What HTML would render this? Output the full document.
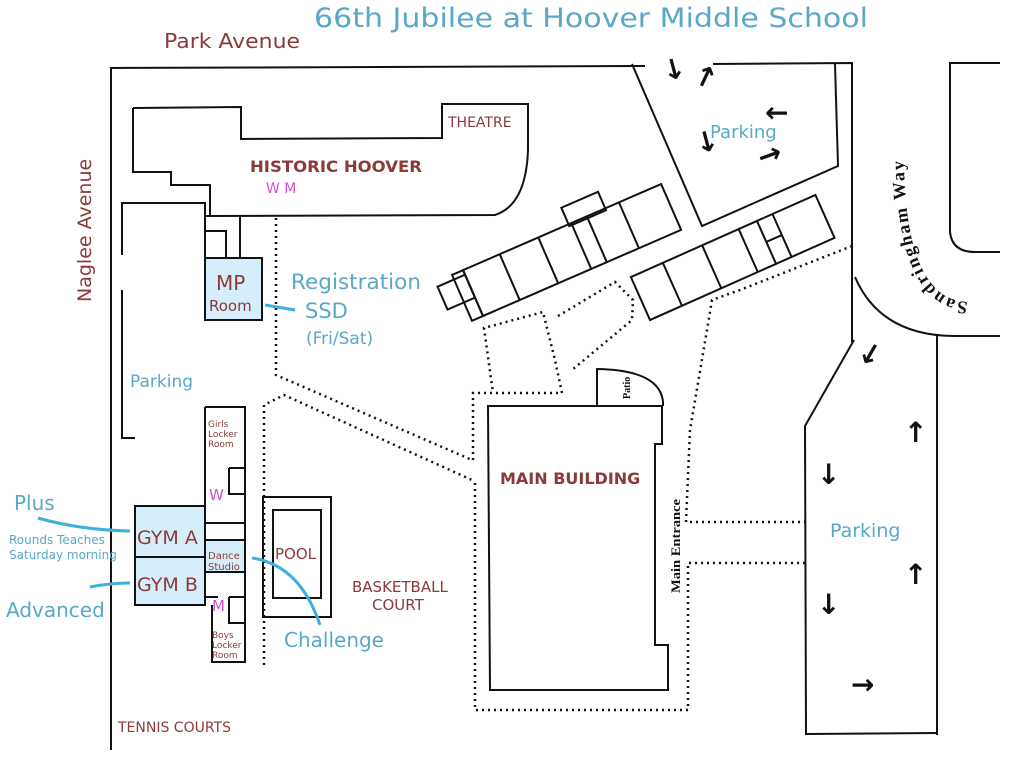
<!DOCTYPE html>
<html><head><meta charset="utf-8"><style>
html,body{margin:0;padding:0;background:#fff}
svg{display:block}
text{font-family:"DejaVu Sans","Liberation Sans",sans-serif}
.r{fill:#8b3a3a}.b{fill:#5aa8c8}.m{fill:#d24fd2}
.ar{font-family:"DejaVu Sans",sans-serif;font-weight:bold;fill:#111;font-size:28px}
</style></head><body>
<svg width="1023" height="768" viewBox="0 0 1023 768" xmlns="http://www.w3.org/2000/svg">
<defs><path id="sw" d="M968 302 Q903 300 904 150"/></defs>
<g fill="none" stroke="#111" stroke-width="2">
<path d="M110 68 L645 66 M111 68 L111 750 M713 64 L852 63 L852 342"/>
<path d="M632 64 L702 226 L838 166 L835 64"/>
<path d="M1000 63 L950 63 L950 232 Q952 252 975 252 L1000 252"/>
<path d="M855 277 Q880 335 953 336 L1000 336 M937 336 L937 735"/>
<path d="M854 340 L805 426 L806 734 L937 733"/>
<path d="M133 108 L241 107 L241 139 L442 138 L442 104 L528 104 L528 150 Q526 205 495 215 L205 216 L205 203 L122 203 L122 255 M122 290 L122 438 L135 438"/>
<path d="M133 108 L133 172 L171 172 L171 185 L210 185 L210 216"/>
<path d="M205 216 L205 320 M205 231 L226 231 L226 258 M240 216 L240 258"/>
<rect x="205" y="258" width="57" height="62" fill="#d6eefa"/>
<path d="M205 407 L245 407 L245 662 L212 662 L212 605 M205 407 L205 506 M229 468 L245 468 M229 468 L229 494 L245 494 M205 523 L245 523 M205 540 L245 540 M205 572 L245 572 M205 597 L218 597 M229 597 L245 597 M229 597 L229 623 L245 623"/>
<rect x="205" y="540" width="40" height="32" fill="#d6eefa"/>
<rect x="135" y="506" width="70" height="99" fill="#d6eefa"/>
<path d="M135 557 L205 557"/>
<rect x="263" y="497" width="68" height="120"/>
<rect x="273" y="510" width="48" height="88"/>
<path d="M488 406 L662 406 L662 444 L655 444 L655 645 L668 645 L668 690 L490 690 Z"/>
<path d="M597 406 L597 369 Q660 370 663 402 L663 406"/>
<g transform="translate(483 316) rotate(-23.5)">
<rect x="0" y="-50" width="216" height="50"/>
<path d="M40 -50 L40 0 M82 -50 L82 0 M118 -50 L118 0 M135 -50 L135 0 M170 -50 L170 0"/>
<rect x="-30" y="-45" width="30" height="25"/>
<rect x="-12" y="-50" width="12" height="50"/>
<rect x="115" y="-68" width="40" height="20"/>
</g>
<g transform="translate(650 320) rotate(-24)">
<rect x="0" y="-47" width="202" height="47"/>
<path d="M35 -47 L35 0 M78 -47 L78 0 M118 -47 L118 0 M138 -47 L138 0 M155 -47 L155 0 M138 -24 L155 -24"/>
</g>
</g>
<g fill="none" stroke="#111" stroke-width="2.5" stroke-dasharray="2 4">
<path d="M276 218 L276 375 L472 460"/>
<path d="M264 665 L264 405 L284 395 L472 480"/>
<path d="M475 483 L475 710 L688 710 L688 563 L806 563 M806 522 L686 522 L690 430 L707 330 L712 300 L740 290 L852 246"/>
<path d="M473 460 L473 393 L562 393 L555 360 L543 312 L484 328 L493 393"/>
<path d="M558 316 L615 282 L633 300 L632 320 L572 370"/>
</g>
<g fill="none" stroke="#3db0e0" stroke-width="3">
<path d="M38 518 Q80 530 130 531"/>
<path d="M90 587 Q110 583 130 583"/>
<path d="M265 305 L295 310"/>
<path d="M252 558 Q300 565 320 625"/>
</g>
<text x="314" y="27" class="b" font-size="27" textLength="554" lengthAdjust="spacingAndGlyphs">66th Jubilee at Hoover Middle School</text>
<text x="164" y="48" class="r" font-size="20" textLength="136" lengthAdjust="spacingAndGlyphs">Park Avenue</text>
<text transform="translate(91 302) rotate(-90)" class="r" font-size="19">Naglee Avenue</text>
<text x="448" y="127" class="r" font-size="14">THEATRE</text>
<text x="250" y="172" class="r" font-size="16" font-weight="bold" textLength="172" lengthAdjust="spacingAndGlyphs">HISTORIC HOOVER</text>
<text x="266" y="193" class="m" font-size="14">W M</text>
<text x="216" y="290" class="r" font-size="20">MP</text>
<text x="209" y="311" class="r" font-size="15">Room</text>
<text x="291" y="289" class="b" font-size="21" textLength="130" lengthAdjust="spacingAndGlyphs">Registration</text>
<text x="305" y="318" class="b" font-size="21">SSD</text>
<text x="306" y="344" class="b" font-size="17">(Fri/Sat)</text>
<text x="130" y="387" class="b" font-size="17">Parking</text>
<text x="710" y="138" class="b" font-size="18">Parking</text>
<text x="830" y="537" class="b" font-size="19">Parking</text>
<text x="208" y="427" class="r" font-size="9">Girls</text>
<text x="208" y="437" class="r" font-size="9">Locker</text>
<text x="208" y="447" class="r" font-size="9">Room</text>
<text x="209" y="500" class="m" font-size="15">W</text>
<text x="212" y="611" class="m" font-size="15">M</text>
<text x="208" y="559" class="r" font-size="10">Dance</text>
<text x="208" y="570" class="r" font-size="10">Studio</text>
<text x="212" y="638" class="r" font-size="9">Boys</text>
<text x="212" y="648" class="r" font-size="9">Locker</text>
<text x="212" y="658" class="r" font-size="9">Room</text>
<text x="137" y="544" class="r" font-size="19">GYM A</text>
<text x="137" y="591" class="r" font-size="19">GYM B</text>
<text x="14" y="510" class="b" font-size="20">Plus</text>
<text x="9" y="544" class="b" font-size="12">Rounds Teaches</text>
<text x="9" y="559" class="b" font-size="12">Saturday morning</text>
<text x="6" y="617" class="b" font-size="20">Advanced</text>
<text x="275" y="559" class="r" font-size="15">POOL</text>
<text x="352" y="592" class="r" font-size="15">BASKETBALL</text>
<text x="372" y="610" class="r" font-size="15">COURT</text>
<text x="284" y="647" class="b" font-size="20">Challenge</text>
<text x="500" y="484" class="r" font-size="16" font-weight="bold">MAIN BUILDING</text>
<text x="118" y="732" class="r" font-size="14">TENNIS COURTS</text>
<text transform="translate(630 399) rotate(-90)" font-size="10" font-weight="bold" fill="#111" style="font-family:'Liberation Serif',serif">Patio</text>
<text transform="translate(680 593) rotate(-90)" font-size="13" font-weight="bold" fill="#111" style="font-family:'Liberation Serif',serif" textLength="94" lengthAdjust="spacingAndGlyphs">Main Entrance</text>
<text font-size="18" font-weight="bold" fill="#111" style="font-family:'Liberation Serif',serif"><textPath href="#sw" textLength="170" lengthAdjust="spacing">Sandringham Way</textPath></text>
<text x="662" y="80" class="ar" transform="rotate(-15 670 70)">↓</text>
<text x="694" y="86" class="ar" transform="rotate(25 704 76)">↑</text>
<text x="765" y="122" class="ar">←</text>
<text x="695" y="152" class="ar" transform="rotate(-15 705 142)">↓</text>
<text x="758" y="164" class="ar" transform="rotate(-20 770 155)">→</text>
<text x="858" y="364" class="ar" transform="rotate(30 870 355)">↓</text>
<text x="904" y="442" class="ar">↑</text>
<text x="817" y="484" class="ar">↓</text>
<text x="904" y="584" class="ar">↑</text>
<text x="817" y="614" class="ar">↓</text>
<text x="851" y="694" class="ar">→</text>
</svg>
</body></html>
